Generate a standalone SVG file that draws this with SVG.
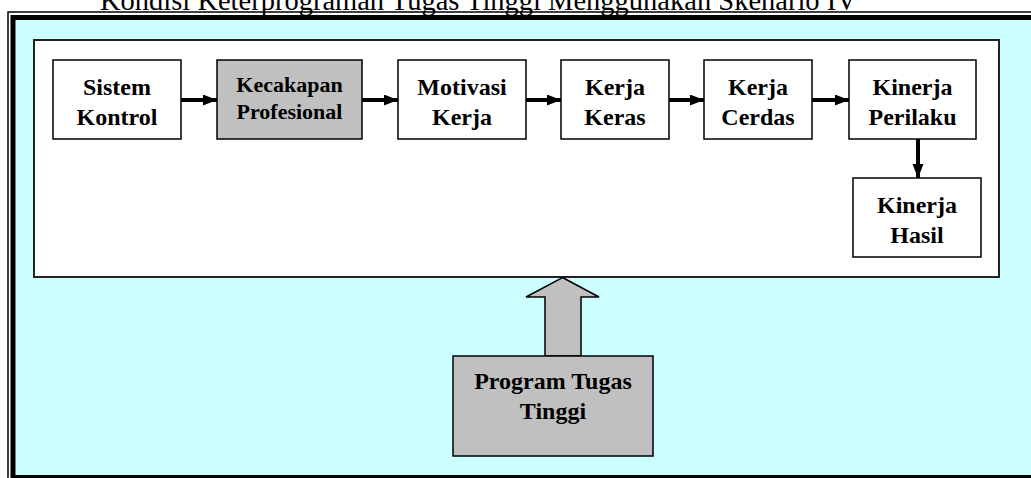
<svg xmlns="http://www.w3.org/2000/svg" width="1031" height="478" viewBox="0 0 1031 478">
  <style>
    .box { fill: #ffffff; stroke: #000000; stroke-width: 1.5; }
    .box.grey { fill: #c0c0c0; }
    .lbl { font-family: "Liberation Serif", "Times New Roman", serif; font-weight: bold; font-size: 24px; fill: #000000; text-anchor: middle; }
    .lbl.sm { font-size: 22px; }
    .title { font-family: "Liberation Serif", "Times New Roman", serif; font-size: 28.5px; fill: #000000; }
    .flow { stroke: #000000; stroke-width: 4; fill: none; marker-end: url(#head); }
  </style>
  <defs>
    <marker id="head" markerUnits="userSpaceOnUse" markerWidth="15" markerHeight="12" refX="14" refY="5.5" orient="auto">
      <path d="M0,0 L14,5.5 L0,11 Z" fill="#000000"/>
    </marker>
  </defs>

  <!-- heading -->
  <text class="title" x="100" y="10">Kondisi Keterprograman Tugas Tinggi Menggunakan Skenario IV</text>

  <!-- outer frame -->
  <rect x="13" y="17" width="1030" height="460" fill="#ccffff"/>
  <path d="M8,478 L8,12 L1031,12" fill="none" stroke="#000000" stroke-width="1.5"/>
  <path d="M13,478 L13,17.5 L1031,17.5" fill="none" stroke="#000000" stroke-width="5"/>
  <line x1="13" y1="476.5" x2="1031" y2="476.5" stroke="#000000" stroke-width="3"/>

  <!-- panel holding the chain -->
  <rect x="34" y="40" width="965" height="237" fill="#ffffff" stroke="#222222" stroke-width="2"/>

  <!-- connectors -->
  <g id="connectors">
    <line class="flow" x1="181" y1="100" x2="217" y2="100"/>
    <line class="flow" x1="362" y1="100" x2="398" y2="100"/>
    <line class="flow" x1="526" y1="100" x2="561" y2="100"/>
    <line class="flow" x1="669" y1="100" x2="704" y2="100"/>
    <line class="flow" x1="812" y1="100" x2="849" y2="100"/>
    <line class="flow" x1="918" y1="139" x2="918" y2="178"/>
    <polygon id="block-arrow" points="562.5,277.5 599,297 581,297 581,356 545,356 545,297 526,297" fill="#c0c0c0" stroke="#000000" stroke-width="1.5"/>
  </g>

  <g id="sistem-kontrol">
    <rect class="box" x="53" y="60" width="128" height="79"/>
    <text class="lbl" x="117" y="95">Sistem</text>
    <text class="lbl" x="117" y="125">Kontrol</text>
  </g>

  <g id="kecakapan-profesional">
    <rect class="box grey" x="217" y="60" width="145" height="79"/>
    <text class="lbl sm" x="289.5" y="92">Kecakapan</text>
    <text class="lbl sm" x="289.5" y="119">Profesional</text>
  </g>

  <g id="motivasi-kerja">
    <rect class="box" x="398" y="60" width="128" height="79"/>
    <text class="lbl" x="462" y="95">Motivasi</text>
    <text class="lbl" x="462" y="125">Kerja</text>
  </g>

  <g id="kerja-keras">
    <rect class="box" x="561" y="60" width="108" height="79"/>
    <text class="lbl" x="615" y="95">Kerja</text>
    <text class="lbl" x="615" y="125">Keras</text>
  </g>

  <g id="kerja-cerdas">
    <rect class="box" x="704" y="60" width="108" height="79"/>
    <text class="lbl" x="758" y="95">Kerja</text>
    <text class="lbl" x="758" y="125">Cerdas</text>
  </g>

  <g id="kinerja-perilaku">
    <rect class="box" x="849" y="60" width="127" height="79"/>
    <text class="lbl" x="912.5" y="95">Kinerja</text>
    <text class="lbl" x="912.5" y="125">Perilaku</text>
  </g>

  <g id="kinerja-hasil">
    <rect class="box" x="853" y="178" width="128" height="79"/>
    <text class="lbl" x="917" y="213">Kinerja</text>
    <text class="lbl" x="917" y="243">Hasil</text>
  </g>

  <g id="program-tugas-tinggi">
    <rect class="box grey" x="453" y="356" width="200" height="100"/>
    <text class="lbl" x="553" y="389">Program Tugas</text>
    <text class="lbl" x="553" y="419">Tinggi</text>
  </g>
</svg>
